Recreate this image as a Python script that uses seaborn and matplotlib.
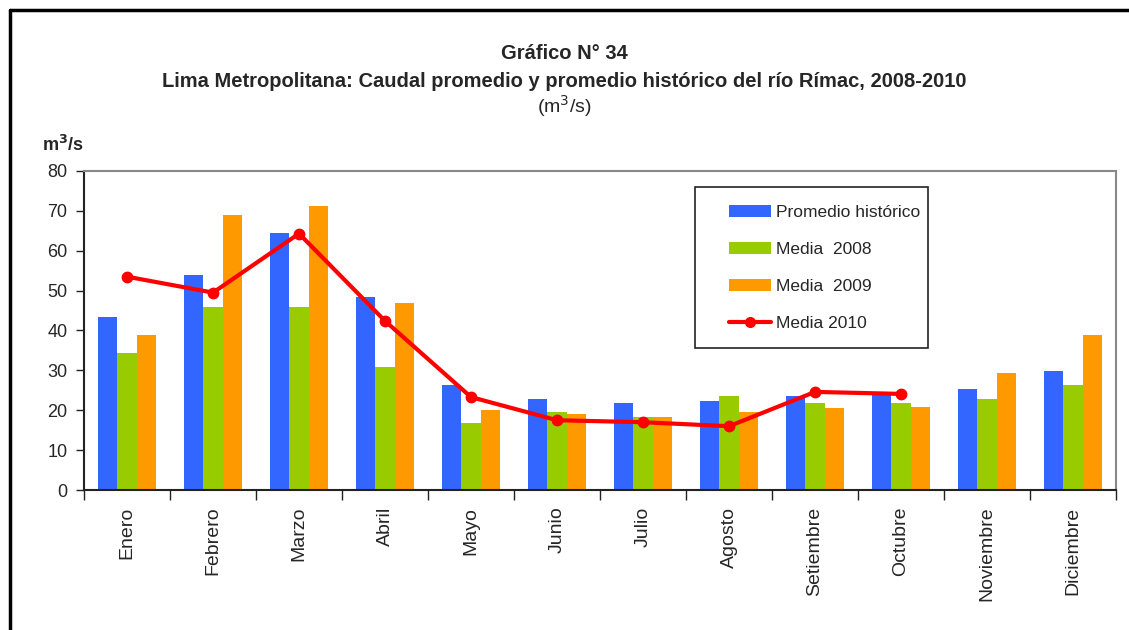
import matplotlib
matplotlib.use("Agg")
import matplotlib.pyplot as plt
from matplotlib.lines import Line2D
from matplotlib.patches import Patch, Rectangle
import numpy as np
import pandas as pd
import seaborn as sns

meses = ["Enero", "Febrero", "Marzo", "Abril", "Mayo", "Junio", "Julio",
         "Agosto", "Setiembre", "Octubre", "Noviembre", "Diciembre"]
promedio_historico = [43.4, 53.9, 64.4, 48.4, 26.3, 22.8, 21.8, 22.3, 23.6, 24.3, 25.3, 29.8]
media_2008 = [34.3, 45.9, 45.9, 30.8, 16.8, 19.5, 18.3, 23.6, 21.8, 21.8, 22.8, 26.3]
media_2009 = [38.8, 68.9, 71.2, 46.9, 20.0, 19.0, 18.3, 19.5, 20.6, 20.8, 29.3, 38.8]
media_2010 = [53.5, 49.5, 64.3, 42.4, 23.3, 17.5, 17.0, 16.0, 24.6, 24.1, np.nan, np.nan]

series = ["Promedio histórico", "Media  2008", "Media  2009"]
colores = ["#3366FF", "#99CC00", "#FF9900"]

df = pd.DataFrame({
    "mes": meses * 3,
    "serie": [s for s in series for _ in meses],
    "valor": promedio_historico + media_2008 + media_2009,
})

sns.set_theme(style="white")
plt.rcParams["font.family"] = ["Liberation Sans", "DejaVu Sans"]

fig = plt.figure(figsize=(11.29, 6.30), dpi=100)
ax = fig.add_axes([0.0744, 0.2222, 0.9141, 0.5064])

sns.barplot(data=df, x="mes", y="valor", hue="serie", order=meses,
            hue_order=series, palette=colores, width=0.68, saturation=1,
            linewidth=0, legend=False, ax=ax)

x = np.arange(len(meses))
ax.plot(x, media_2010, color="#FF0000", lw=3, marker="o", ms=7.5,
        solid_joinstyle="round", zorder=5)

ax.set_xlim(-0.5, len(meses) - 0.5)
ax.set_ylim(0, 80)
ax.set_yticks(range(0, 81, 10))
ax.set_xlabel("")
ax.set_ylabel("")

# month names centred on the groups, tick marks on the group boundaries
ax.set_xticks(x)
ax.set_xticklabels(meses, rotation=90, fontsize=14)
ax.tick_params(axis="x", which="major", length=0, pad=12)
ax.set_xticks(np.arange(-0.5, len(meses)), minor=True)
ax.tick_params(axis="x", which="minor", length=7, width=1, color="#222222",
               direction="out", bottom=True)
ax.tick_params(axis="y", length=6, width=1, color="#222222", direction="out",
               left=True, labelsize=13, pad=6)

for side in ["left", "bottom"]:
    ax.spines[side].set_color("#222222")
    ax.spines[side].set_linewidth(1.5)
for side in ["top", "right"]:
    ax.spines[side].set_color("#888888")
    ax.spines[side].set_linewidth(1.5)

# legend entries with a separate box around them
handles = [Patch(facecolor=c, edgecolor="none") for c in colores]
handles.append(Line2D([0], [0], color="#FF0000", lw=3, marker="o", ms=7))
labels = series + ["Media 2010"]
ax.legend(handles, labels, loc="center left", bbox_to_anchor=(0.625, 0.696),
          frameon=False, fontsize=12.5, handlelength=2.4, handleheight=0.7,
          labelspacing=1.25, borderpad=0, handletextpad=0.3,
          borderaxespad=0)
ax.add_patch(Rectangle((0.592, 0.445), 0.226, 0.505, transform=ax.transAxes,
                       fill=False, edgecolor="#222222", lw=1.2, zorder=6,
                       clip_on=False))

fig.text(0.5, 0.915, "Gráfico N° 34", ha="center", va="center",
         fontsize=14.5, fontweight="bold")
fig.text(0.5, 0.870, "Lima Metropolitana: Caudal promedio y promedio histórico del río Rímac, 2008-2010",
         ha="center", va="center", fontsize=14.5, fontweight="bold")
fig.text(0.5, 0.832, "(m$^3$/s)", ha="center", va="center", fontsize=14)
fig.text(0.056, 0.770, "m$^\\mathbf{3}$/s", ha="center", va="center",
         fontsize=13, fontweight="bold")

# page frame along the top and left edges
fig.add_artist(Line2D([0.0089, 1.0], [0.984, 0.984], color="black", lw=2.5,
                      transform=fig.transFigure))
fig.add_artist(Line2D([0.0089, 0.0089], [0.0, 0.984], color="black", lw=2.5,
                      transform=fig.transFigure))

fig.savefig("out.png", dpi=100)
